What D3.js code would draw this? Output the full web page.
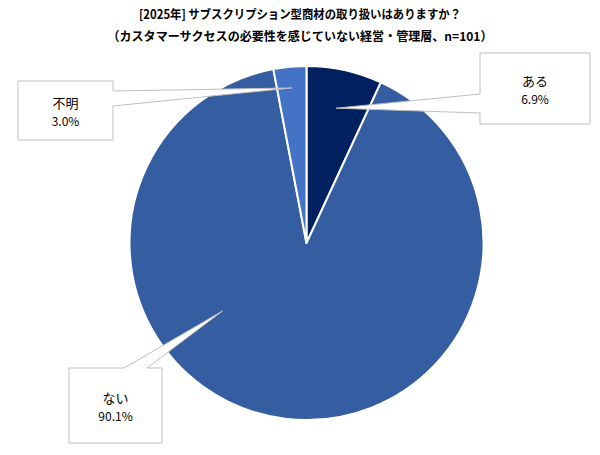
<!DOCTYPE html>
<html>
<head>
<meta charset="utf-8">
<script src="https://cdn.jsdelivr.net/npm/d3@7"></script>
<style>
  body { margin: 0; background: #fff; }
  text { font-family: "Noto Sans CJK JP", "Noto Sans", sans-serif; fill: #000; }
</style>
</head>
<body>
<div id="chart"></div>
<script>
// data
const categories = ["ある", "ない", "不明"];
const shares = [6.9, 90.1, 3.0];
const sliceColors = ["#002060", "#355da2", "#4472c4"];
const titleLines = ["[2025年] サブスクリプション型商材の取り扱いはありますか？",
                    "（カスタマーサクセスの必要性を感じていない経営・管理層、n=101）"];

const w = 600, h = 455;
const cx = 306.5, cy = 243, r = 177;

const svg = d3.select("#chart").append("svg")
  .attr("width", w).attr("height", h);

// title
svg.selectAll("text.title").data(titleLines).enter().append("text")
  .attr("class", "title")
  .attr("x", 300)
  .attr("y", (d, i) => 19 + i * 22)
  .attr("text-anchor", "middle")
  .attr("font-size", 12.5)
  .attr("font-weight", "bold")
  .attr("textLength", (d, i) => i == 0 ? 322 : 385)
  .attr("lengthAdjust", "spacingAndGlyphs")
  .text(d => d);

const pie = d3.pie().sort(null).value(d => d);
const arcs = pie(shares);
const arc = d3.arc().innerRadius(0).outerRadius(r);

const g = svg.append("g").attr("transform", `translate(${cx},${cy})`);

g.selectAll("path.slice").data(arcs).enter().append("path")
  .attr("class", "slice")
  .attr("d", arc)
  .attr("fill", (d, i) => sliceColors[i])
  .attr("stroke", "#fff")
  .attr("stroke-width", 2)
  .attr("stroke-linejoin", "round");

// callout boxes: box rect, side the pointer leaves from, tip position (angle offset, radius share)
const callouts = [
  { box: [480, 53, 110, 71], side: "left", base: [94, 113], tipAngle: 0, tipR: 0.78 },
  { box: [69, 368, 93, 75], side: "top", base: [124, 147], tipAngle: 44 * Math.PI / 180, tipR: 0.61 },
  { box: [18, 81, 95, 59], side: "right", base: [91, 106], tipAngle: 0, tipR: 0.88 }
];

arcs.forEach((a, i) => {
  const c = callouts[i];
  const mid = (a.startAngle + a.endAngle) / 2 + c.tipAngle;
  const p = d3.pointRadial(mid, r * c.tipR);
  const tip = [cx + p[0], cy + p[1]];
  const [bx, by, bw, bh] = c.box;
  let pts;
  if (c.side == "left") {
    pts = [[bx, by], [bx + bw, by], [bx + bw, by + bh], [bx, by + bh], [bx, c.base[1]], tip, [bx, c.base[0]]];
  } else if (c.side == "right") {
    pts = [[bx, by], [bx + bw, by], [bx + bw, c.base[0]], tip, [bx + bw, c.base[1]], [bx + bw, by + bh], [bx, by + bh]];
  } else {
    pts = [[bx, by], [c.base[0], by], tip, [c.base[1], by], [bx + bw, by], [bx + bw, by + bh], [bx, by + bh]];
  }
  svg.append("path")
    .attr("d", d3.line()(pts) + "Z")
    .attr("fill", "#fff")
    .attr("stroke", "#bfbfbf")
    .attr("stroke-width", 1);

  const tx = bx + bw / 2, ty = by + bh / 2;
  svg.append("text")
    .attr("x", tx).attr("y", ty - 3)
    .attr("text-anchor", "middle")
    .attr("font-size", 13)
    .text(categories[i]);
  svg.append("text")
    .attr("x", tx).attr("y", ty + 15)
    .attr("text-anchor", "middle")
    .attr("font-size", 12)
    .text(shares[i].toFixed(1) + "%");
});
</script>
</body>
</html>
